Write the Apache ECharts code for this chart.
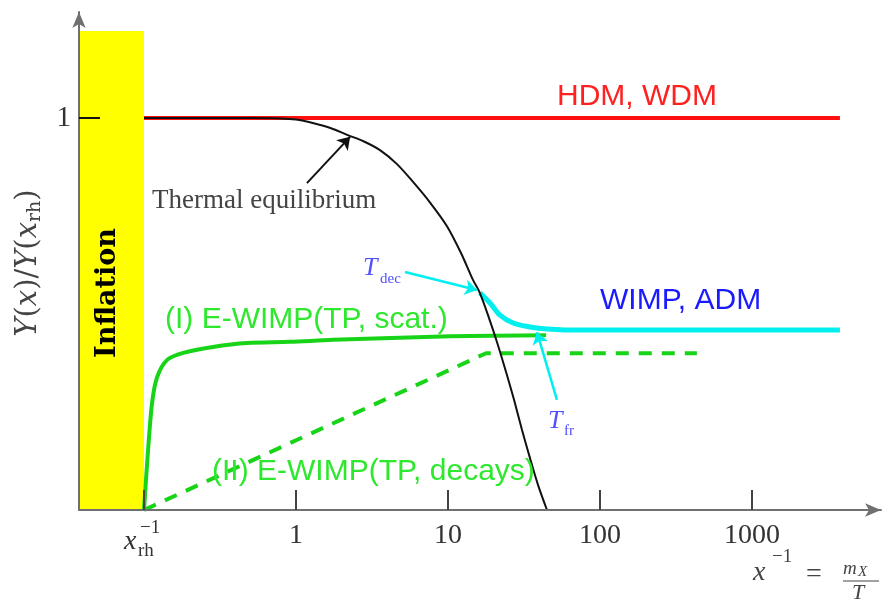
<!DOCTYPE html>
<html>
<head>
<meta charset="utf-8">
<script src="https://cdn.jsdelivr.net/npm/echarts@6/dist/echarts.min.js"></script>
<style>html,body{margin:0;padding:0;background:#fff;}#c{width:888px;height:604px;}</style>
</head>
<body>
<div id="c"></div>
<script>
// ---- data ----
const xTickValues = [0.1, 1, 10, 100, 1000];
const xLabelValues = [1, 10, 100, 1000];
const yTickValues = [1];

const hdmX = [0.1, 3790];
const hdmY = [1, 1];

const thermalX = [0.1, 0.3, 0.5, 0.8, 1, 1.29, 1.7, 2.17, 2.8, 3.57, 4.6, 5.89, 7.6, 9.85, 12.2, 14.6, 16.2, 18.6, 21.3, 24.1, 27.2, 30.7, 34.6, 39.1, 44.8];
const thermalY = [1, 1, 1, 0.999, 0.996, 0.987, 0.974, 0.957, 0.94, 0.918, 0.883, 0.837, 0.785, 0.724, 0.655, 0.587, 0.554, 0.490, 0.421, 0.352, 0.281, 0.204, 0.133, 0.064, 0.0];

const wimpX = [16.2, 18.9, 22.0, 26.8, 34.6, 44.8, 73.9, 3790];
const wimpY = [0.554, 0.528, 0.497, 0.477, 0.467, 0.462, 0.459, 0.459];

const scatX = [0.1, 0.106, 0.113, 0.122, 0.142, 0.181, 0.284, 0.476, 0.913, 1.75, 10.3, 44.2];
const scatY = [0, 0.145, 0.273, 0.339, 0.383, 0.401, 0.416, 0.426, 0.429, 0.434, 0.443, 0.446];

const decayX = [0.1, 17.8, 434];
const decayY = [0, 0.40, 0.40];

const inflationX = [0.03736, 0.1];
const inflationY = [0, 1.222];

const arrowThermal = [[1.18, 0.834], [2.27, 0.952]];
const arrowDec = [[5.21, 0.607], [15.5, 0.561]];
const arrowFr = [[52.1, 0.281], [38.5, 0.454]];

const zip = (xs, ys) => xs.map((x, i) => [x, ys[i]]);

const SERIF = '"Liberation Serif", "DejaVu Serif", serif';
const DSERIF = '"DejaVu Serif", serif';
const SANS = '"Liberation Sans", "DejaVu Sans", sans-serif';

const chart = echarts.init(document.getElementById('c'), null, {renderer: 'canvas'});

function txt(text, x, y, font, fill, extra) {
  return Object.assign({
    type: 'text', z: 100,
    style: {text: text, x: x, y: y, font: font, fill: fill, verticalAlign: 'middle', align: 'left'}
  }, extra || {});
}

chart.setOption({
  animation: false,
  backgroundColor: '#ffffff',
  grid: {left: 79, right: 7, top: 12, bottom: 94, containLabel: false},
  xAxis: {
    type: 'log', logBase: 10, min: 0.03736, max: 7060, z: 10,
    splitLine: {show: false},
    axisLine: {show: true, lineStyle: {color: '#707070', width: 2}, symbol: ['none', 'arrow'], symbolSize: [10, 16]},
    axisTick: {show: true, inside: true, length: 20, customValues: xTickValues, lineStyle: {color: '#444', width: 2}},
    axisLabel: {show: true, customValues: xLabelValues, margin: 12, color: '#333', fontFamily: SERIF, fontSize: 28,
      formatter: v => String(Math.round(v))},
    minorTick: {show: false}
  },
  yAxis: {
    type: 'value', min: 0, max: 1.2704, z: 10,
    splitLine: {show: false},
    axisLine: {show: true, lineStyle: {color: '#707070', width: 2}, symbol: ['none', 'arrow'], symbolSize: [10, 16]},
    axisTick: {show: true, inside: true, length: 21, customValues: yTickValues, lineStyle: {color: '#111', width: 2}},
    axisLabel: {show: true, customValues: yTickValues, margin: 8, color: '#333', fontFamily: SERIF, fontSize: 29,
      formatter: v => String(v)}
  },
  series: [
    {
      type: 'line', name: 'inflation', data: [], silent: true, z: 1,
      markArea: {silent: true, itemStyle: {color: '#ffff00', opacity: 1},
        data: [[{coord: [inflationX[0], inflationY[0]]}, {coord: [inflationX[1], inflationY[1]]}]]}
    },
    {type: 'line', name: 'HDM, WDM', data: zip(hdmX, hdmY), showSymbol: false, z: 3,
      lineStyle: {color: '#ff1010', width: 4}},
    {type: 'line', name: 'WIMP, ADM', data: zip(wimpX, wimpY), showSymbol: false, smooth: 0.3, z: 3,
      lineStyle: {color: '#00efef', width: 5}},
    {type: 'line', name: 'E-WIMP scat', data: zip(scatX, scatY), showSymbol: false, smooth: 0.3, z: 3,
      lineStyle: {color: '#18d418', width: 4}},
    {type: 'line', name: 'E-WIMP decays', data: zip(decayX, decayY), showSymbol: false, z: 3,
      lineStyle: {color: '#18d418', width: 4, type: [13, 10]}},
    {type: 'line', name: 'Thermal equilibrium', data: zip(thermalX, thermalY), showSymbol: false, smooth: 0.3, z: 4,
      lineStyle: {color: '#111', width: 2}},
    {type: 'lines', coordinateSystem: 'cartesian2d', z: 5, symbol: ['none', 'arrow'], symbolSize: 12,
      lineStyle: {color: '#111', width: 2, opacity: 1},
      data: [{coords: arrowThermal}]},
    {type: 'lines', coordinateSystem: 'cartesian2d', z: 5, symbol: ['none', 'arrow'], symbolSize: 12,
      lineStyle: {color: '#00efef', width: 2.5, opacity: 1},
      data: [{coords: arrowDec}, {coords: arrowFr}]}
  ],
  graphic: [
    // y axis name
    {type: 'text', z: 100, x: 28, y: 263, rotation: Math.PI / 2,
      style: {text: '{i|Y}{n|(}{i|x}{n|)/}{i|Y}{n|(}{i|x}{s|rh}{n|)}', align: 'center', verticalAlign: 'middle',
        rich: {
          i: {fontFamily: DSERIF, fontStyle: 'italic', fontSize: 29, fill: '#444', color: '#444'},
          n: {fontFamily: DSERIF, fontSize: 29, fill: '#444', color: '#444'},
          s: {fontFamily: DSERIF, fontSize: 19, fill: '#444', color: '#444', verticalAlign: 'bottom', padding: [15, 0, 0, 0]}
        }}},
    // Inflation
    {type: 'text', z: 100, x: 108, y: 293, rotation: Math.PI / 2,
      style: {text: 'Inflation', align: 'center', verticalAlign: 'middle', font: 'bold 27px "DejaVu Serif", serif', fill: '#000'}},
    txt('HDM, WDM', 557, 97, '30px ' + SANS, '#ff2020'),
    txt('WIMP, ADM', 600, 301, '30px ' + SANS, '#1a1aff'),
    txt('(I) E-WIMP(TP, scat.)', 165, 320, '30px ' + SANS, '#2ee82e'),
    txt('(II) E-WIMP(TP, decays)', 212, 472, '30px ' + SANS, '#2ee82e'),
    txt('Thermal equilibrium', 152, 201, '27px ' + SERIF, '#444'),
    txt('T', 363, 268, 'italic 26px ' + SERIF, '#5050ff'),
    txt('dec', 380, 279, '15px ' + SERIF, '#5050ff'),
    txt('T', 548, 421, 'italic 26px ' + SERIF, '#5050ff'),
    txt('fr', 564, 431, '15px ' + SERIF, '#5050ff'),
    // x_rh^-1 tick label
    txt('x', 124, 542, 'italic 28px ' + SERIF, '#333'),
    txt('\u22121', 140, 528, '19px ' + SERIF, '#333'),
    txt('rh', 138, 551, '19px ' + SERIF, '#333'),
    // x axis name
    txt('x', 753, 573, 'italic 28px ' + SERIF, '#444'),
    txt('\u22121', 772, 557, '19px ' + SERIF, '#444'),
    txt('=', 806, 575, '28px ' + SERIF, '#444'),
    txt('m', 843, 569, 'italic 19px ' + SERIF, '#444'),
    txt('X', 858, 572, 'italic 15px ' + SERIF, '#444'),
    {type: 'line', z: 100, shape: {x1: 843, y1: 581, x2: 879, y2: 581}, style: {stroke: '#444', lineWidth: 1}},
    txt('T', 852, 593, 'italic 22px ' + SERIF, '#444')
  ]
});
</script>
</body>
</html>
